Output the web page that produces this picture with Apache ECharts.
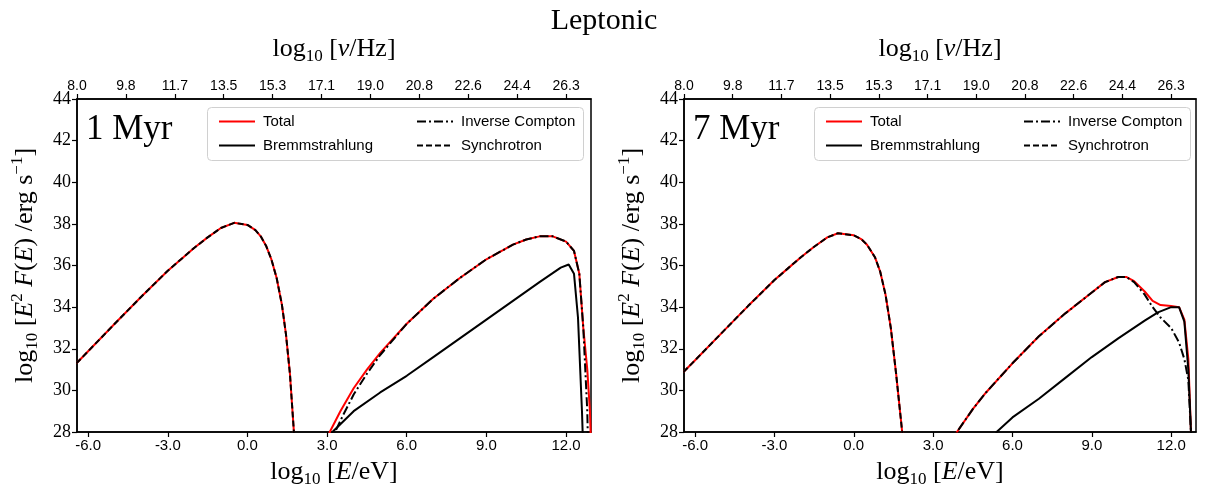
<!DOCTYPE html>
<html>
<head>
<meta charset="utf-8">
<script src="https://cdn.jsdelivr.net/npm/echarts@6/dist/echarts.min.js"></script>
<style>html,body{margin:0;padding:0;background:#fff}#c{width:1208px;height:494px}</style>
</head>
<body>
<div id="c"></div>
<script>
// ---------- data (log10 E/eV , log10 E^2 F(E)) ----------
const panelTitles = ['1 Myr', '7 Myr'];
const seriesNames = ['Total', 'Bremmstrahlung', 'Inverse Compton', 'Synchrotron'];
const xTickValues = [-6, -3, 0, 3, 6, 9, 12];
const topTickLabels = ['8.0','9.8','11.7','13.5','15.3','17.1','19.0','20.8','22.6','24.4','26.3'];
const yMin = 28, yMax = 44, yStep = 2;
const eMin = -6.42, eMax = 12.94;

// 1 Myr
const synchrotron1 = [[-6.44,31.3],[-6,31.88],[-5,33.2],[-4,34.5],[-3,35.75],[-2.5,36.3],[-2,36.85],[-1.5,37.35],[-1,37.8],[-0.5,38.05],[0,37.95],[0.3,37.7],[0.5,37.4],[0.7,36.95],[0.9,36.3],[1.1,35.4],[1.3,34.1],[1.45,32.7],[1.6,30.8],[1.75,28.0],[1.9,25]];
const inverseCompton1 = [[3.1,26.5],[3.3,28],[3.6,28.8],[4,29.8],[4.5,30.8],[5,31.7],[6,33.2],[7,34.4],[8,35.4],[9,36.3],[10,37.0],[10.5,37.25],[11,37.4],[11.5,37.4],[12,37.15],[12.3,36.7],[12.5,35.6],[12.65,33],[12.8,29],[12.85,26]];
const bremsstrahlung1 = [[3.0,27],[3.2,28],[4,29.0],[5,29.9],[6,30.7],[7,31.6],[8,32.5],[9,33.4],[10,34.3],[11,35.2],[11.8,35.9],[12.1,36.05],[12.3,35.6],[12.45,33.5],[12.6,29],[12.65,27]];
const total1 = [[-6.44,31.3],[-6,31.88],[-5,33.2],[-4,34.5],[-3,35.75],[-2.5,36.3],[-2,36.85],[-1.5,37.35],[-1,37.8],[-0.5,38.05],[0,37.95],[0.3,37.7],[0.5,37.4],[0.7,36.95],[0.9,36.3],[1.1,35.4],[1.3,34.1],[1.45,32.7],[1.6,30.8],[1.75,28.0],[1.9,25],null,[2.9,26.5],[3.1,28],[3.5,29.0],[4,30.1],[4.5,31.0],[5,31.8],[6,33.2],[7,34.4],[8,35.4],[9,36.3],[10,37.0],[10.5,37.25],[11,37.4],[11.5,37.4],[12,37.15],[12.3,36.7],[12.5,35.6],[12.65,33],[12.8,31],[12.9,29],[12.95,27]];

// 7 Myr
const synchrotron7 = [[-6.44,30.88],[-6,31.45],[-5,32.75],[-4,34.05],[-3,35.3],[-2.5,35.85],[-2,36.4],[-1.5,36.9],[-1,37.35],[-0.6,37.55],[0,37.45],[0.3,37.25],[0.5,37.0],[0.8,36.4],[1.0,35.7],[1.2,34.6],[1.4,33.0],[1.6,30.8],[1.83,28],[1.95,26]];
const inverseCompton7 = [[3.8,26.5],[3.9,28],[4.5,29.1],[5,29.9],[6,31.3],[7,32.6],[8,33.7],[9,34.7],[9.5,35.2],[10,35.45],[10.3,35.45],[10.6,35.2],[11,34.6],[11.3,34.0],[11.6,33.5],[12,33.0],[12.3,32.3],[12.5,31.5],[12.65,30.5],[12.75,28],[12.8,26]];
const bremsstrahlung7 = [[5.3,27.5],[5.4,28],[6,28.7],[7,29.6],[8,30.6],[9,31.6],[10,32.5],[11,33.35],[11.5,33.75],[12,34.0],[12.3,34.0],[12.5,33.3],[12.65,31],[12.75,28],[12.8,26]];
const total7 = [[-6.44,30.88],[-6,31.45],[-5,32.75],[-4,34.05],[-3,35.3],[-2.5,35.85],[-2,36.4],[-1.5,36.9],[-1,37.35],[-0.6,37.55],[0,37.45],[0.3,37.25],[0.5,37.0],[0.8,36.4],[1.0,35.7],[1.2,34.6],[1.4,33.0],[1.6,30.8],[1.83,28],[1.95,26],null,[3.8,26.5],[3.9,28],[4.5,29.1],[5,29.9],[6,31.3],[7,32.6],[8,33.7],[9,34.7],[9.5,35.2],[10,35.45],[10.3,35.45],[10.6,35.25],[11,34.75],[11.3,34.3],[11.6,34.1],[12,34.05],[12.3,34.0],[12.5,33.4],[12.65,31.5],[12.75,28],[12.8,26]];

const panels = [
  {total: total1, brems: bremsstrahlung1, ic: inverseCompton1, syn: synchrotron1},
  {total: total7, brems: bremsstrahlung7, ic: inverseCompton7, syn: synchrotron7}
];

// ---------- layout / style ----------
const SERIF = '"Liberation Serif", "DejaVu Serif", serif';
const SANS = '"Liberation Sans", "DejaVu Sans", sans-serif';
const grids = [
  {left: 77, top: 99, width: 514, height: 333},
  {left: 684, top: 99, width: 512, height: 333}
];
const topStep = (12.0 - eMin) / (topTickLabels.length - 1);
const topTickValues = topTickLabels.map((_, i) => eMin + i * topStep);

const nameRich = {
  a: {fontFamily: SERIF, fontSize: 26, color: '#000', lineHeight: 32},
  i: {fontFamily: SERIF, fontSize: 26, fontStyle: 'italic', color: '#000', lineHeight: 32},
  s: {fontFamily: SERIF, fontSize: 17, color: '#000', lineHeight: 15, verticalAlign: 'bottom'},
  p: {fontFamily: SERIF, fontSize: 17, color: '#000', lineHeight: 24, verticalAlign: 'top'}
};

const option = {
  animation: false,
  backgroundColor: '#fff',
  title: {
    text: 'Leptonic', left: 'center', top: 1,
    textStyle: {fontFamily: SERIF, fontSize: 30, fontWeight: 'normal', color: '#000'}
  },
  grid: grids.map(g => Object.assign({show: true, borderColor: '#000', borderWidth: 1.5, backgroundColor: 'transparent'}, g)),
  xAxis: [],
  yAxis: [],
  legend: [],
  series: [],
  graphic: []
};

grids.forEach((g, gi) => {
  option.xAxis.push({
    gridIndex: gi, type: 'value', min: eMin, max: eMax, position: 'bottom',
    axisLine: {show: true, onZero: false, lineStyle: {color: '#000', width: 1.5}},
    axisTick: {show: true, customValues: xTickValues, length: 5, lineStyle: {color: '#000', width: 1.2}},
    axisLabel: {customValues: xTickValues, formatter: v => v.toFixed(1), color: '#000', fontFamily: SANS, fontSize: 15, margin: 6},
    splitLine: {show: false},
    name: '{a|log}{s|10}{a| [}{i|E}{a|/eV]}', nameLocation: 'middle', nameGap: 24,
    nameTextStyle: {rich: nameRich}
  });
  option.xAxis.push({
    gridIndex: gi, type: 'value', min: eMin, max: eMax, position: 'top',
    axisLine: {show: true, onZero: false, lineStyle: {color: '#000', width: 1.5}},
    axisTick: {show: true, customValues: topTickValues, length: 5, lineStyle: {color: '#000', width: 1.2}},
    axisLabel: {customValues: topTickValues, formatter: v => topTickLabels[Math.round((v - eMin) / topStep)] || '', color: '#000', fontFamily: SANS, fontSize: 14, margin: 6},
    splitLine: {show: false},
    name: '{a|log}{s|10}{a| [}{i|ν}{a|/Hz]}', nameLocation: 'middle', nameGap: 34,
    nameTextStyle: {rich: nameRich}
  });
  option.yAxis.push({
    gridIndex: gi, type: 'value', min: yMin, max: yMax, interval: yStep,
    axisLine: {show: true, onZero: false, lineStyle: {color: '#000', width: 1.5}},
    axisTick: {show: true, length: 5, lineStyle: {color: '#000', width: 1.2}},
    axisLabel: {color: '#000', fontFamily: SERIF, fontSize: 18, margin: 6},
    splitLine: {show: false},
    name: '{a|log}{s|10}{a| [}{i|E}{p|2}{i| F}{a|(}{i|E}{a|) /erg s}{p|−1}{a|]}',
    nameLocation: 'middle', nameGap: 36, nameRotate: 90,
    nameTextStyle: {rich: nameRich}
  });

  const p = panels[gi];
  const xi = gi * 2, yi = gi;
  const mk = (name, data, color, type, z) => ({
    name, type: 'line', data, xAxisIndex: xi, yAxisIndex: yi,
    symbol: 'none', showSymbol: false, connectNulls: false, clip: true, z,
    lineStyle: {color, width: 2, type}, itemStyle: {color}
  });
  option.series.push(mk('Total', p.total, '#ff0000', 'solid', 2));
  option.series.push(mk('Bremmstrahlung', p.brems, '#000', 'solid', 3));
  option.series.push(mk('Inverse Compton', p.ic, '#000', [9, 3, 2, 3], 4));
  option.series.push(mk('Synchrotron', p.syn, '#000', [6, 3], 5));

  const ox = g.left - 77;
  const legendBase = {
    orient: 'vertical', top: 109,
    itemWidth: 36, itemHeight: 14, itemGap: 9, selectedMode: false,
    itemStyle: {opacity: 0, borderWidth: 0},
    textStyle: {fontFamily: SANS, fontSize: 15, color: '#000', padding: [0, 0, 0, 3]}
  };
  option.legend.push(Object.assign({}, legendBase, {data: ['Total', 'Bremmstrahlung'], left: 213 + ox}));
  option.legend.push(Object.assign({}, legendBase, {data: ['Inverse Compton', 'Synchrotron'], left: 411 + ox}));
  option.graphic.push({
    type: 'rect', left: 207 + ox, top: 107, z: 50,
    shape: {width: 376, height: 53, r: 4},
    style: {fill: 'rgba(255,255,255,0.8)', stroke: '#d0d0d0', lineWidth: 1}
  });
  option.graphic.push({
    type: 'text', left: 86 + ox, top: 112, z: 60,
    style: {text: panelTitles[gi], fontFamily: SERIF, fontSize: 35, fill: '#000'}
  });
});
option.legend.forEach(l => l.z = 100);

const chart = echarts.init(document.getElementById('c'), null, {renderer: 'canvas'});
chart.setOption(option);
</script>
</body>
</html>
